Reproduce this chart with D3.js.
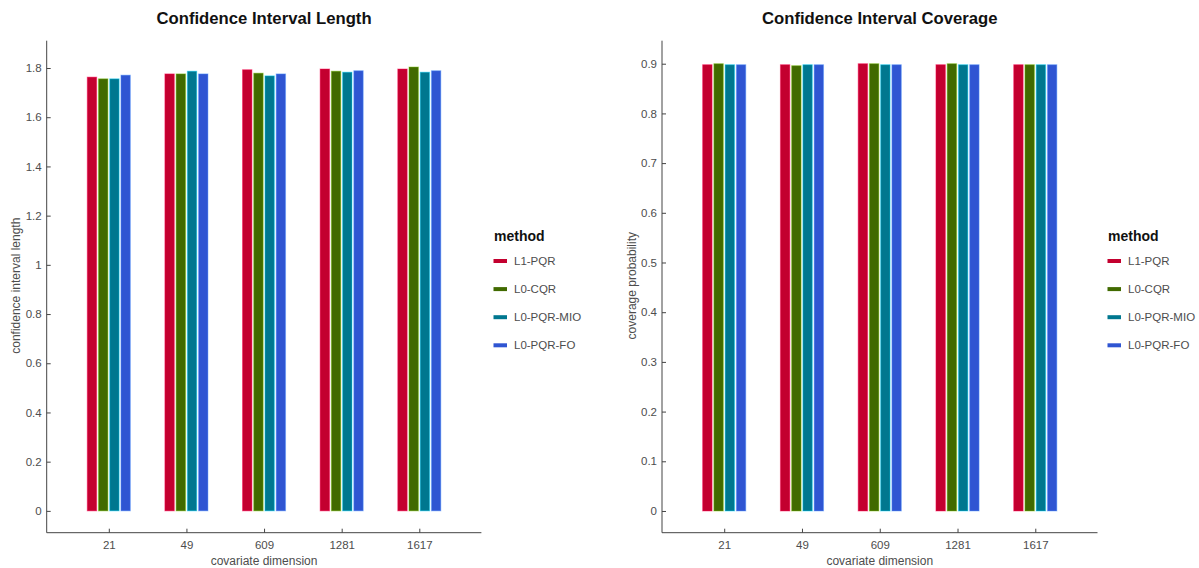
<!DOCTYPE html>
<html lang="en">
<head>
<meta charset="UTF-8">
<title>Confidence intervals</title>
<script src="https://d3js.org/d3.v7.min.js"></script>
<style>
  body { margin: 0; background: #fff; }
  text { font-family: "Liberation Sans", Arial, sans-serif; }
</style>
</head>
<body>
<div id="chart"></div>
<script>
// categories and series
var dims = ["21", "49", "609", "1281", "1617"];
var methods = ["L1-PQR", "L0-CQR", "L0-PQR-MIO", "L0-PQR-FO"];
var colors = ["#c3002f", "#416a00", "#00778f", "#2f55d2"];

// confidence interval length, one array per method
var lenL1 = [1.763, 1.776, 1.793, 1.796, 1.796];
var lenCQR = [1.756, 1.776, 1.779, 1.787, 1.804];
var lenMIO = [1.756, 1.787, 1.768, 1.783, 1.783];
var lenFO = [1.771, 1.776, 1.776, 1.789, 1.789];

// coverage probability, one array per method
var covL1 = [0.898, 0.898, 0.900, 0.898, 0.898];
var covCQR = [0.900, 0.896, 0.900, 0.900, 0.898];
var covMIO = [0.898, 0.898, 0.898, 0.898, 0.898];
var covFO = [0.898, 0.898, 0.898, 0.898, 0.898];

var lenTicks = [0, 0.2, 0.4, 0.6, 0.8, 1, 1.2, 1.4, 1.6, 1.8];
var covTicks = [0, 0.1, 0.2, 0.3, 0.4, 0.5, 0.6, 0.7, 0.8, 0.9];

var W = 1199, H = 568;
var svg = d3.select("#chart").append("svg")
    .attr("width", W).attr("height", H);

function drawPanel(opt) {
    var x0 = opt.left, x1 = opt.right, yTop = 40.7, yBot = 532.7;

    // position scale: categories at 1..5, axis spans 0.2..5.8
    var x = d3.scaleLinear().domain([0.2, 5.8]).range([x0, x1]);
    var y = d3.scaleLinear().domain(opt.ydom).range([yBot, yTop]);

    var g = svg.append("g");

    // bars
    var slot = 0.1445, nm = methods.length;
    var slotPx = x(slot) - x(0), gap = 1.8;
    opt.series.forEach(function (vals, m) {
        g.selectAll(null)
            .data(vals)
            .enter()
            .append("rect")
            .attr("x", function (d, i) { return x(i + 1 + (m - nm / 2) * slot) + gap / 2; })
            .attr("width", slotPx - gap)
            .attr("y", function (d) { return y(d); })
            .attr("height", function (d) { return y(0) - y(d); })
            .attr("fill", colors[m])
            .attr("stroke", d3.color(colors[m]).brighter(1.6))
            .attr("stroke-opacity", 0.45)
            .attr("stroke-width", 1);
    });

    // y axis
    var yAxis = d3.axisLeft(y).tickValues(opt.yticks)
        .tickSize(-4).tickPadding(5)
        .tickFormat(function (d) { return d3.format("~g")(d); });
    var ya = g.append("g").attr("transform", "translate(" + x0 + ",0)").call(yAxis);
    ya.select(".domain").attr("d", "M0," + yTop + "V" + yBot).attr("stroke", "#444");

    // x axis
    var xAxis = d3.axisBottom(x).tickValues([1, 2, 3, 4, 5])
        .tickSize(-4).tickPadding(8)
        .tickFormat(function (d) { return dims[d - 1]; });
    var xa = g.append("g").attr("transform", "translate(0," + yBot + ")").call(xAxis);
    xa.select(".domain").attr("d", "M" + x0 + ",0H" + x1).attr("stroke", "#444");

    [ya, xa].forEach(function (a) {
        a.selectAll(".tick line").attr("stroke", "#444");
        a.selectAll(".tick text").attr("fill", "#4d4d4d")
            .style("font-size", "11.5px")
            .style("font-family", "'Liberation Sans', Arial, sans-serif");
    });

    // labels
    g.append("text")
        .attr("x", (x0 + x1) / 2).attr("y", 24)
        .attr("text-anchor", "middle")
        .style("font-size", "16.7px").style("font-weight", "bold")
        .attr("fill", "#111")
        .text(opt.title);

    g.append("text")
        .attr("x", (x0 + x1) / 2).attr("y", 565)
        .attr("text-anchor", "middle")
        .style("font-size", "12px").attr("fill", "#4d4d4d")
        .text("covariate dimension");

    g.append("text")
        .attr("transform", "translate(" + (x0 - 26.5) + "," + ((yTop + yBot) / 2 - 1) + ") rotate(-90)")
        .attr("text-anchor", "middle")
        .style("font-size", "12px").attr("fill", "#4d4d4d")
        .text(opt.ylabel);

    // legend
    var lg = g.append("g").attr("transform", "translate(" + opt.legendX + ",0)");
    lg.append("text").attr("x", 0).attr("y", 241)
        .style("font-size", "14px").style("font-weight", "bold")
        .attr("fill", "#111").text("method");
    var item = lg.selectAll(".item").data(methods).enter().append("g")
        .attr("transform", function (d, i) { return "translate(0," + (261 + i * 28.1) + ")"; });
    item.append("rect").attr("x", -0.5).attr("y", -2).attr("width", 13.5).attr("height", 4)
        .attr("fill", function (d, i) { return colors[i]; });
    item.append("text").attr("x", 20).attr("y", 4)
        .style("font-size", "11.5px").attr("fill", "#4d4d4d")
        .text(function (d) { return d; });
}

drawPanel({
    left: 46.7, right: 481.4, ydom: [-0.0887, 1.911],
    series: [lenL1, lenCQR, lenMIO, lenFO], yticks: lenTicks,
    title: "Confidence Interval Length", ylabel: "confidence interval length",
    legendX: 494
});

drawPanel({
    left: 662, right: 1097.5, ydom: [-0.0437, 0.9463],
    series: [covL1, covCQR, covMIO, covFO], yticks: covTicks,
    title: "Confidence Interval Coverage", ylabel: "coverage probability",
    legendX: 1108
});
</script>
</body>
</html>
